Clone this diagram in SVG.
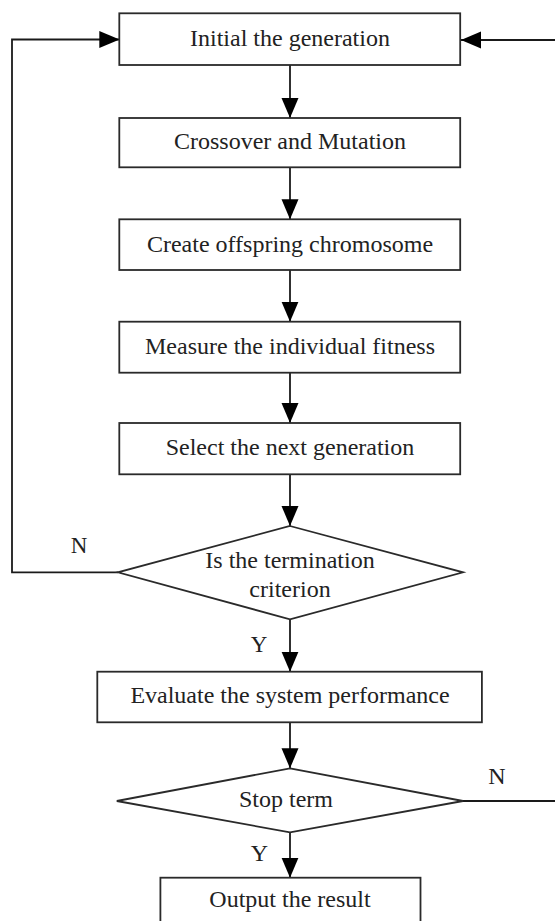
<svg xmlns="http://www.w3.org/2000/svg" width="555" height="921" viewBox="0 0 555 921">
  <style>
    .box { fill: #ffffff; stroke: #2a2a2a; stroke-width: 1.8; }
    .conn { fill: none; stroke: #1a1a1a; stroke-width: 1.8; }
    .t { font-family: "Liberation Serif", "Times New Roman", serif; font-size: 24px; fill: #222222; text-anchor: middle; }
    .lbl { font-family: "Liberation Serif", "Times New Roman", serif; font-size: 23px; fill: #222222; text-anchor: middle; }
  </style>
  <defs>
    <marker id="arrow" markerUnits="userSpaceOnUse" markerWidth="20" markerHeight="18" refX="20" refY="8.5" orient="auto" viewBox="0 0 20 17">
      <path d="M0,0 L20,8.5 L0,17 Z" fill="#000000"/>
    </marker>
  </defs>
  <rect width="555" height="921" fill="#ffffff"/>

  <g id="connectors">
    <line class="conn" x1="290" y1="65" x2="290" y2="118" marker-end="url(#arrow)"/>
    <line class="conn" x1="290" y1="167.3" x2="290" y2="219.3" marker-end="url(#arrow)"/>
    <line class="conn" x1="290" y1="270" x2="290" y2="321.7" marker-end="url(#arrow)"/>
    <line class="conn" x1="290" y1="372.7" x2="290" y2="423" marker-end="url(#arrow)"/>
    <line class="conn" x1="290" y1="474.3" x2="290" y2="526" marker-end="url(#arrow)"/>
    <line class="conn" x1="290" y1="619.3" x2="290" y2="671.7" marker-end="url(#arrow)"/>
    <line class="conn" x1="290" y1="722.3" x2="290" y2="768.3" marker-end="url(#arrow)"/>
    <line class="conn" x1="290" y1="832.3" x2="290" y2="877.7" marker-end="url(#arrow)"/>
    <polyline class="conn" points="118,572.3 12,572.3 12,39.5 119.3,39.5" marker-end="url(#arrow)"/>
    <line class="conn" x1="555" y1="40" x2="461" y2="40" marker-end="url(#arrow)"/>
    <line class="conn" x1="463" y1="801" x2="555" y2="801"/>
    <text class="lbl" x="79" y="553">N</text>
    <text class="lbl" x="259" y="651.5">Y</text>
    <text class="t" x="497" y="784">N</text>
    <text class="t" x="259.3" y="860.5">Y</text>
  </g>

  <g id="n1">
    <rect class="box" x="119.3" y="13.3" width="340.9" height="51.7"/>
    <text class="t" x="290" y="46">Initial the generation</text>
  </g>
  <g id="n2">
    <rect class="box" x="119.3" y="118" width="340.9" height="49.3"/>
    <text class="t" x="290" y="149.3">Crossover and Mutation</text>
  </g>
  <g id="n3">
    <rect class="box" x="119.3" y="219.3" width="340.9" height="50.7"/>
    <text class="t" x="290" y="251.7">Create offspring chromosome</text>
  </g>
  <g id="n4">
    <rect class="box" x="119.3" y="321.7" width="340.9" height="51"/>
    <text class="t" x="290" y="353.5">Measure the individual fitness</text>
  </g>
  <g id="n5">
    <rect class="box" x="119.3" y="423" width="340.9" height="51.3"/>
    <text class="t" x="290" y="455">Select the next generation</text>
  </g>
  <g id="d1">
    <polygon class="box" points="290,526 463,572.3 290,619.3 117.9,572.3"/>
    <text class="t" x="290" y="568.3">Is the termination</text>
    <text class="t" x="290" y="597.3">criterion</text>
  </g>
  <g id="n6">
    <rect class="box" x="97.3" y="671.7" width="384.6" height="50.6"/>
    <text class="t" x="290" y="703.3">Evaluate the system performance</text>
  </g>
  <g id="d2">
    <polygon class="box" points="290,768.3 463,801 290,832.3 116.8,801"/>
    <text class="t" x="286" y="806.7">Stop term</text>
  </g>
  <g id="n7">
    <rect class="box" x="160.4" y="877.7" width="260.1" height="50"/>
    <text class="t" x="290" y="906.7">Output the result</text>
  </g>
</svg>
